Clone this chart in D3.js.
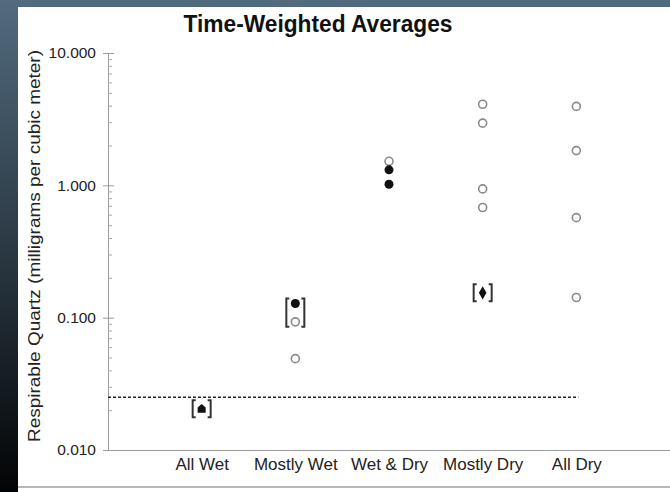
<!DOCTYPE html>
<html>
<head>
<meta charset="utf-8">
<script src="https://cdn.jsdelivr.net/npm/d3@7"></script>
<style>
  html, body { margin: 0; padding: 0; }
  body { width: 670px; height: 492px; overflow: hidden; }
  svg { display: block; font-family: "Liberation Sans", Arial, sans-serif; }
</style>
</head>
<body>
<div id="chart"></div>
<script>
// categories along the x axis
const categories = ['All Wet', 'Mostly Wet', 'Wet & Dry', 'Mostly Dry', 'All Dry'];

// open circles: [category, value]
const openPoints = [
    ['Mostly Wet', 0.093], ['Mostly Wet', 0.049],
    ['Wet & Dry', 1.52],
    ['Mostly Dry', 4.1], ['Mostly Dry', 2.95], ['Mostly Dry', 0.94], ['Mostly Dry', 0.68],
    ['All Dry', 3.95], ['All Dry', 1.83], ['All Dry', 0.57], ['All Dry', 0.142]
];

// filled circles
const filledPoints = [
    ['Mostly Wet', 0.128],
    ['Wet & Dry', 1.31], ['Wet & Dry', 1.02]
];

// filled diamond
const diamondPoints = [['Mostly Dry', 0.154]];

// filled "house" marker
const housePoints = [['All Wet', 0.0205]];

// bracketed groups: [category, low, high]
const brackets = [
    ['All Wet', 0.0205, 0.0205],
    ['Mostly Wet', 0.093, 0.128],
    ['Mostly Dry', 0.154, 0.154]
];

// reference limit (dashed line)
const limitValue = 0.025;

const yMajorTicks = [0.01, 0.1, 1, 10];

const W = 670, H = 492;

const svg = d3.select('#chart').append('svg')
    .attr('width', W)
    .attr('height', H);

// dark slide background
const defs = svg.append('defs');
const grad = defs.append('linearGradient')
    .attr('id', 'bg')
    .attr('x1', 0).attr('y1', 0).attr('x2', 0).attr('y2', 1);
grad.append('stop').attr('offset', '0%').attr('stop-color', '#526b7e');
grad.append('stop').attr('offset', '55%').attr('stop-color', '#27343e');
grad.append('stop').attr('offset', '100%').attr('stop-color', '#030405');

svg.append('rect')
    .attr('width', W).attr('height', H)
    .attr('fill', 'url(#bg)');

svg.append('rect')
    .attr('x', 18).attr('y', 7)
    .attr('width', W - 18).attr('height', H - 7)
    .attr('fill', '#ffffff');

// bottom separator line of the slide
svg.append('line')
    .attr('x1', 18).attr('x2', W)
    .attr('y1', 487).attr('y2', 487)
    .attr('stroke', '#b8b8b8')
    .attr('stroke-width', 2);

// Scales
const x = d3.scalePoint()
    .domain(categories)
    .range([108, 670])
    .padding(1);

const y = d3.scaleLog()
    .domain([0.01, 10])
    .range([450, 53]);

// Title
svg.append('text')
    .attr('x', 318)
    .attr('y', 32)
    .attr('text-anchor', 'middle')
    .attr('textLength', 269)
    .attr('lengthAdjust', 'spacingAndGlyphs')
    .style('font-size', '23px')
    .style('font-weight', '700')
    .style('fill', '#111')
    .text('Time-Weighted Averages');

// Y axis with labels and crossing major ticks
const yAxisG = svg.append('g')
    .attr('transform', 'translate(108,0)')
    .call(d3.axisLeft(y)
        .tickValues(yMajorTicks)
        .tickSize(5)
        .tickPadding(7)
        .tickFormat(d3.format('.3f')));

yAxisG.select('.domain').attr('stroke', '#9a9a9a');
yAxisG.selectAll('.tick line').attr('stroke', '#9a9a9a');
yAxisG.selectAll('.tick text')
    .style('font-size', '15.5px')
    .style('fill', '#222');

// right half of major ticks
svg.append('g')
    .attr('transform', 'translate(108,0)')
    .call(d3.axisRight(y).tickValues(yMajorTicks).tickSize(6).tickFormat(''))
    .call(g => g.select('.domain').remove())
    .selectAll('.tick line').attr('stroke', '#9a9a9a');

// minor ticks on the right of the axis
const minorTicks = y.ticks().filter(v => !yMajorTicks.includes(v));
svg.append('g')
    .attr('transform', 'translate(108,0)')
    .call(d3.axisRight(y).tickValues(minorTicks).tickSize(4).tickFormat(''))
    .call(g => g.select('.domain').remove())
    .selectAll('.tick line').attr('stroke', '#a8a8a8');

// X axis line and category labels
const xAxisG = svg.append('g')
    .attr('transform', 'translate(0,450)')
    .call(d3.axisBottom(x).tickSize(0).tickPadding(8));

xAxisG.select('.domain')
    .attr('d', 'M108,0.5H670')
    .attr('stroke', '#9a9a9a');
xAxisG.selectAll('.tick text')
    .style('font-size', '17px')
    .style('fill', '#222');

// Y axis title
svg.append('text')
    .attr('transform', 'rotate(-90)')
    .attr('x', -246)
    .attr('y', 40)
    .attr('text-anchor', 'middle')
    .attr('textLength', 392)
    .attr('lengthAdjust', 'spacingAndGlyphs')
    .style('font-size', '16px')
    .style('fill', '#222')
    .text('Respirable Quartz (milligrams per cubic meter)');

// Dashed limit line
svg.append('line')
    .attr('x1', 108)
    .attr('x2', x(categories[categories.length - 1]) + 2)
    .attr('y1', y(limitValue))
    .attr('y2', y(limitValue))
    .attr('stroke', '#222')
    .attr('stroke-width', 1.5)
    .attr('stroke-dasharray', '3,2');

// Brackets
const bw = 9, arm = 3;
svg.append('g')
    .selectAll('path')
    .data(brackets)
    .enter()
    .append('path')
    .attr('fill', 'none')
    .attr('stroke', '#333')
    .attr('stroke-width', 2)
    .attr('d', d => {
        const pad = d[1] === d[2] ? 8.5 : 5;
        const cx = x(d[0]);
        const top = y(d[2]) - pad;
        const bot = y(d[1]) + pad;
        return `M${cx - bw + arm},${top}H${cx - bw}V${bot}H${cx - bw + arm}` +
               `M${cx + bw - arm},${top}H${cx + bw}V${bot}H${cx + bw - arm}`;
    });

// Open circles
svg.append('g')
    .selectAll('circle')
    .data(openPoints)
    .enter()
    .append('circle')
    .attr('cx', d => x(d[0]))
    .attr('cy', d => y(d[1]))
    .attr('r', 4)
    .attr('fill', '#fff')
    .attr('stroke', '#8a8a8a')
    .attr('stroke-width', 1.6);

// Filled circles
svg.append('g')
    .selectAll('circle')
    .data(filledPoints)
    .enter()
    .append('circle')
    .attr('cx', d => x(d[0]))
    .attr('cy', d => y(d[1]))
    .attr('r', 4.5)
    .attr('fill', '#111');

// Diamond
svg.append('g')
    .selectAll('path')
    .data(diamondPoints)
    .enter()
    .append('path')
    .attr('transform', d => `translate(${x(d[0])},${y(d[1])})`)
    .attr('d', d3.symbol().type(d3.symbolDiamond).size(50))
    .attr('fill', '#111');

// House-shaped marker
const symbolHouse = {
    draw(context, size) {
        const s = Math.sqrt(size) / 2;
        context.moveTo(0, -s * 1.2);
        context.lineTo(s, -s * 0.3);
        context.lineTo(s, s);
        context.lineTo(-s, s);
        context.lineTo(-s, -s * 0.3);
        context.closePath();
    }
};
svg.append('g')
    .selectAll('path')
    .data(housePoints)
    .enter()
    .append('path')
    .attr('transform', d => `translate(${x(d[0])},${y(d[1])})`)
    .attr('d', d3.symbol().type(symbolHouse).size(64))
    .attr('fill', '#111');
</script>
</body>
</html>
